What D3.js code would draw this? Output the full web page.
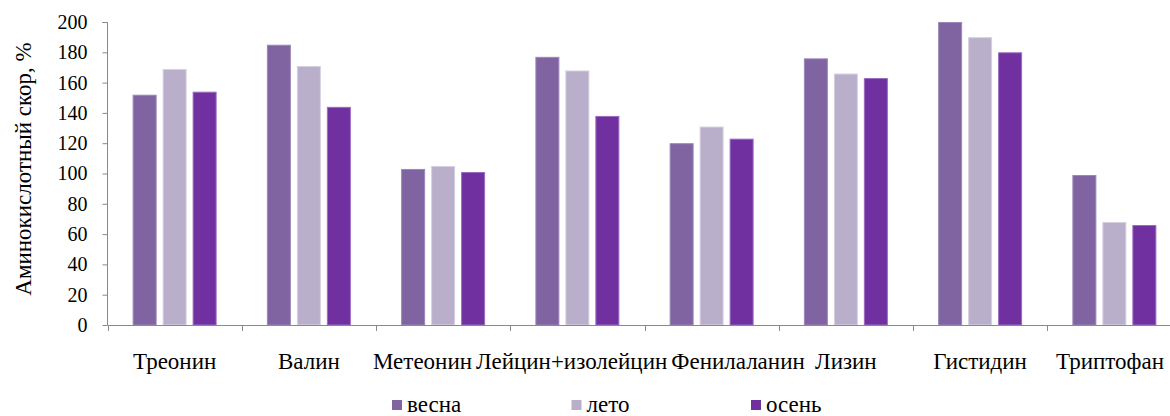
<!DOCTYPE html>
<html><head><meta charset="utf-8">
<script src="https://cdn.jsdelivr.net/npm/d3@7"></script>
</head>
<body style="margin:0"><svg id="c" width="1170" height="416" style="background:#fff"></svg>
<script>
// ---- data ----
const categories = ["Треонин","Валин","Метеонин","Лейцин+изолейцин","Фенилаланин","Лизин","Гистидин","Триптофан"];
const seriesNames = ["весна","лето","осень"];
const vesna = [152, 185, 103, 177, 120, 176, 200, 99];
const leto  = [169, 171, 105, 168, 131, 166, 190, 68];
const osen  = [154, 144, 101, 138, 123, 163, 180, 66];
const yTicks = [0,20,40,60,80,100,120,140,160,180,200];
const yTitle = "Аминокислотный скор, %";

// ---- layout / style ----
const FONT = "'Liberation Serif'";
const colors = ["#8064A2","#B9AFCB","#7030A0"];
const strokes = ["#9c86b8","#d8d0e2","#9a6cc0"];
const X0 = 107.5, X1 = 1181.5, Y0 = 325, Y1 = 22;
const axisColor = "#898989";
const fsTick = 20, fsText = 23;

const svg = d3.select("#c").attr("font-family", "Liberation Serif");
const x = d3.scaleBand().domain(categories).range([X0, X1]).paddingInner(0).paddingOuter(0);
const xs = d3.scaleBand().domain(seriesNames).range([0, x.bandwidth()]).paddingInner(0.2).paddingOuter(0.838);
const y = d3.scaleLinear().domain([0,200]).range([Y0, Y1]);
const series = [vesna, leto, osen];

function txt(sel, size) {
  return sel.attr("font-family", "Liberation Serif").style("font-family", FONT)
    .style("font-size", size + "px").attr("fill", "#000");
}

// bars
seriesNames.forEach((s, si) => {
  svg.append("g").selectAll("rect").data(series[si]).join("rect")
    .attr("x", (d,i) => x(categories[i]) + xs(s) + 0.5)
    .attr("y", d => y(d) + 0.5)
    .attr("width", xs.bandwidth() - 1)
    .attr("height", d => Y0 - y(d) - 0.5)
    .attr("fill", colors[si])
    .attr("stroke", strokes[si])
    .attr("stroke-width", 1);
});

// y axis
const yAxis = d3.axisLeft(y).tickValues(yTicks).tickSize(5).tickPadding(15).tickFormat(d3.format("d"));
const gy = svg.append("g").attr("transform", `translate(${X0},0)`).call(yAxis);
gy.attr("font-family", "Liberation Serif").attr("font-size", null);
gy.select(".domain").attr("stroke", axisColor).attr("d", `M-5,${Y1+0.5}H0V${Y0}`);
gy.selectAll(".tick line").attr("stroke", axisColor);
txt(gy.selectAll(".tick text"), fsTick);

// x axis line + ticks at category boundaries
const gx = svg.append("g");
gx.append("line").attr("x1", X0).attr("x2", X1).attr("y1", Y0+0.5).attr("y2", Y0+0.5).attr("stroke", axisColor);
const bounds = categories.map(c => x(c)).concat([X1]);
gx.selectAll("line.t").data(bounds).join("line").attr("class","t")
  .attr("x1", d => Math.round(d)+0.5).attr("x2", d => Math.round(d)+0.5)
  .attr("y1", Y0).attr("y2", Y0+6).attr("stroke", axisColor);

// x labels with overlap resolution
const labs = txt(svg.append("g").selectAll("text").data(categories).join("text"), fsText)
  .attr("y", 369).text(d => d);
const gap = 4;
const items = [];
labs.each(function(d){ const w = this.getComputedTextLength(); items.push({w, want: x(d) + x.bandwidth()/2 - w/2}); });
const blocks = [];
items.forEach((it, i) => {
  const b = {idx:[i], off:[0], len: it.w, sum: it.want, n:1};
  b.pos = b.sum / b.n;
  blocks.push(b);
  while (blocks.length > 1) {
    const a = blocks[blocks.length-2], c = blocks[blocks.length-1];
    if (a.pos + a.len + gap > c.pos) {
      const shift = a.len + gap;
      const m = {idx: a.idx.concat(c.idx), off: a.off.concat(c.off.map(o => o + shift)),
        len: shift + c.len, sum: a.sum + (c.sum - shift*c.n), n: a.n + c.n};
      m.pos = m.sum / m.n;
      blocks.splice(blocks.length-2, 2, m);
    } else break;
  }
});
const lefts = [];
blocks.forEach(b => b.idx.forEach((k, j) => lefts[k] = b.pos + b.off[j]));
const maxRight = 1164;
items.forEach((it,i) => { if (lefts[i] + it.w > maxRight) lefts[i] = maxRight - it.w; });
labs.attr("x", (d,i) => lefts[i]);

// y title
txt(svg.append("text"), fsText).attr("transform", `translate(31,169) rotate(-90)`)
  .attr("text-anchor","middle").text(yTitle);

// legend
const legendStart = 392, legendStep = 179.5;
const lg = svg.append("g").selectAll("g").data(seriesNames).join("g")
  .attr("transform", (d,i) => `translate(${legendStart + i*legendStep},400)`);
lg.append("rect").attr("width", 10).attr("height", 10).attr("fill", (d,i) => colors[i]);
txt(lg.append("text"), fsText).attr("x", 15).attr("y", 12).text(d => d);
</script></body></html>
